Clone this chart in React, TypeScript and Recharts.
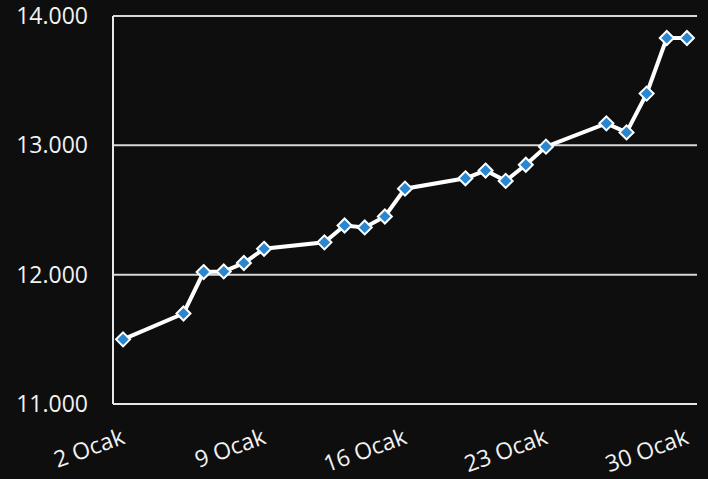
import React from 'react';
import { LineChart, Line, XAxis, YAxis, CartesianGrid } from 'recharts';

const days = [2, 5, 6, 7, 8, 9, 12, 13, 14, 15, 16, 19, 20, 21, 22, 23, 26, 27, 28, 29, 30];
const values = [
  11500, 11700, 12020, 12025, 12090, 12200, 12250, 12380, 12365, 12450, 12665,
  12745, 12805, 12725, 12850, 12990, 13170, 13100, 13400, 13830, 13830,
];
const xTicks = [2, 9, 16, 23, 30];
const yTicks = [11000, 12000, 13000, 14000];

const data = days.map((day, i) => ({ day, value: values[i] }));

const FONT = '"Open Sans", sans-serif';
const TEXT = '#f2f2f2';

const fmtThousands = (v: number) => String(v).replace(/\B(?=(\d{3})+(?!\d))/g, '.');

const DateTick = ({ x, y, payload }: any) => {
  const tx = x + 3;
  const ty = y + 39;
  return (
    <text
      x={tx}
      y={ty}
      transform={`rotate(-20 ${tx} ${ty})`}
      textAnchor="end"
      fill={TEXT}
      fontSize={23}
      fontFamily={FONT}
    >
      {payload.value} Ocak
    </text>
  );
};

const Diamond = ({ cx, cy }: any) => {
  if (cx == null || cy == null) return null;
  const r = 7;
  return (
    <polygon
      points={`${cx},${cy - r} ${cx + r},${cy} ${cx},${cy + r} ${cx - r},${cy}`}
      fill="#2b86d0"
      stroke="#ffffff"
      strokeWidth={2}
    />
  );
};

export default function App() {
  return (
    <div style={{ width: 708, height: 479, background: '#0e0e0e' }}>
      <style>{`body{margin:0;background:#0e0e0e}`}</style>
      <LineChart
        width={708}
        height={479}
        data={data}
        margin={{ top: 16, right: 11, left: 0, bottom: 0 }}
      >
        <CartesianGrid vertical={false} stroke="#d8d8d8" strokeWidth={2} />
        <XAxis
          dataKey="day"
          type="number"
          domain={[1.5, 30.5]}
          ticks={xTicks}
          height={75}
          tickLine={false}
          tickSize={0}
          tickMargin={0}
          axisLine={{ stroke: '#e8e8e8', strokeWidth: 2 }}
          tick={<DateTick />}
        />
        <XAxis
          xAxisId="top"
          orientation="top"
          dataKey="day"
          type="number"
          domain={[1.5, 30.5]}
          height={0}
          tick={false}
          tickLine={false}
          axisLine={{ stroke: '#e8e8e8', strokeWidth: 2 }}
        />
        <YAxis
          domain={[11000, 14000]}
          ticks={yTicks}
          width={113}
          tickLine={false}
          tickSize={0}
          tickMargin={25}
          axisLine={{ stroke: '#e8e8e8', strokeWidth: 2 }}
          tickFormatter={fmtThousands}
          tick={{ fill: TEXT, fontSize: 23, fontFamily: FONT }}
        />
        <YAxis
          yAxisId="right"
          orientation="right"
          domain={[11000, 14000]}
          width={0}
          tick={false}
          tickLine={false}
          axisLine={{ stroke: '#e8e8e8', strokeWidth: 2 }}
        />
        <Line
          type="linear"
          dataKey="value"
          stroke="#ffffff"
          strokeWidth={4}
          dot={<Diamond />}
          activeDot={false}
          isAnimationActive={false}
        />
      </LineChart>
    </div>
  );
}
